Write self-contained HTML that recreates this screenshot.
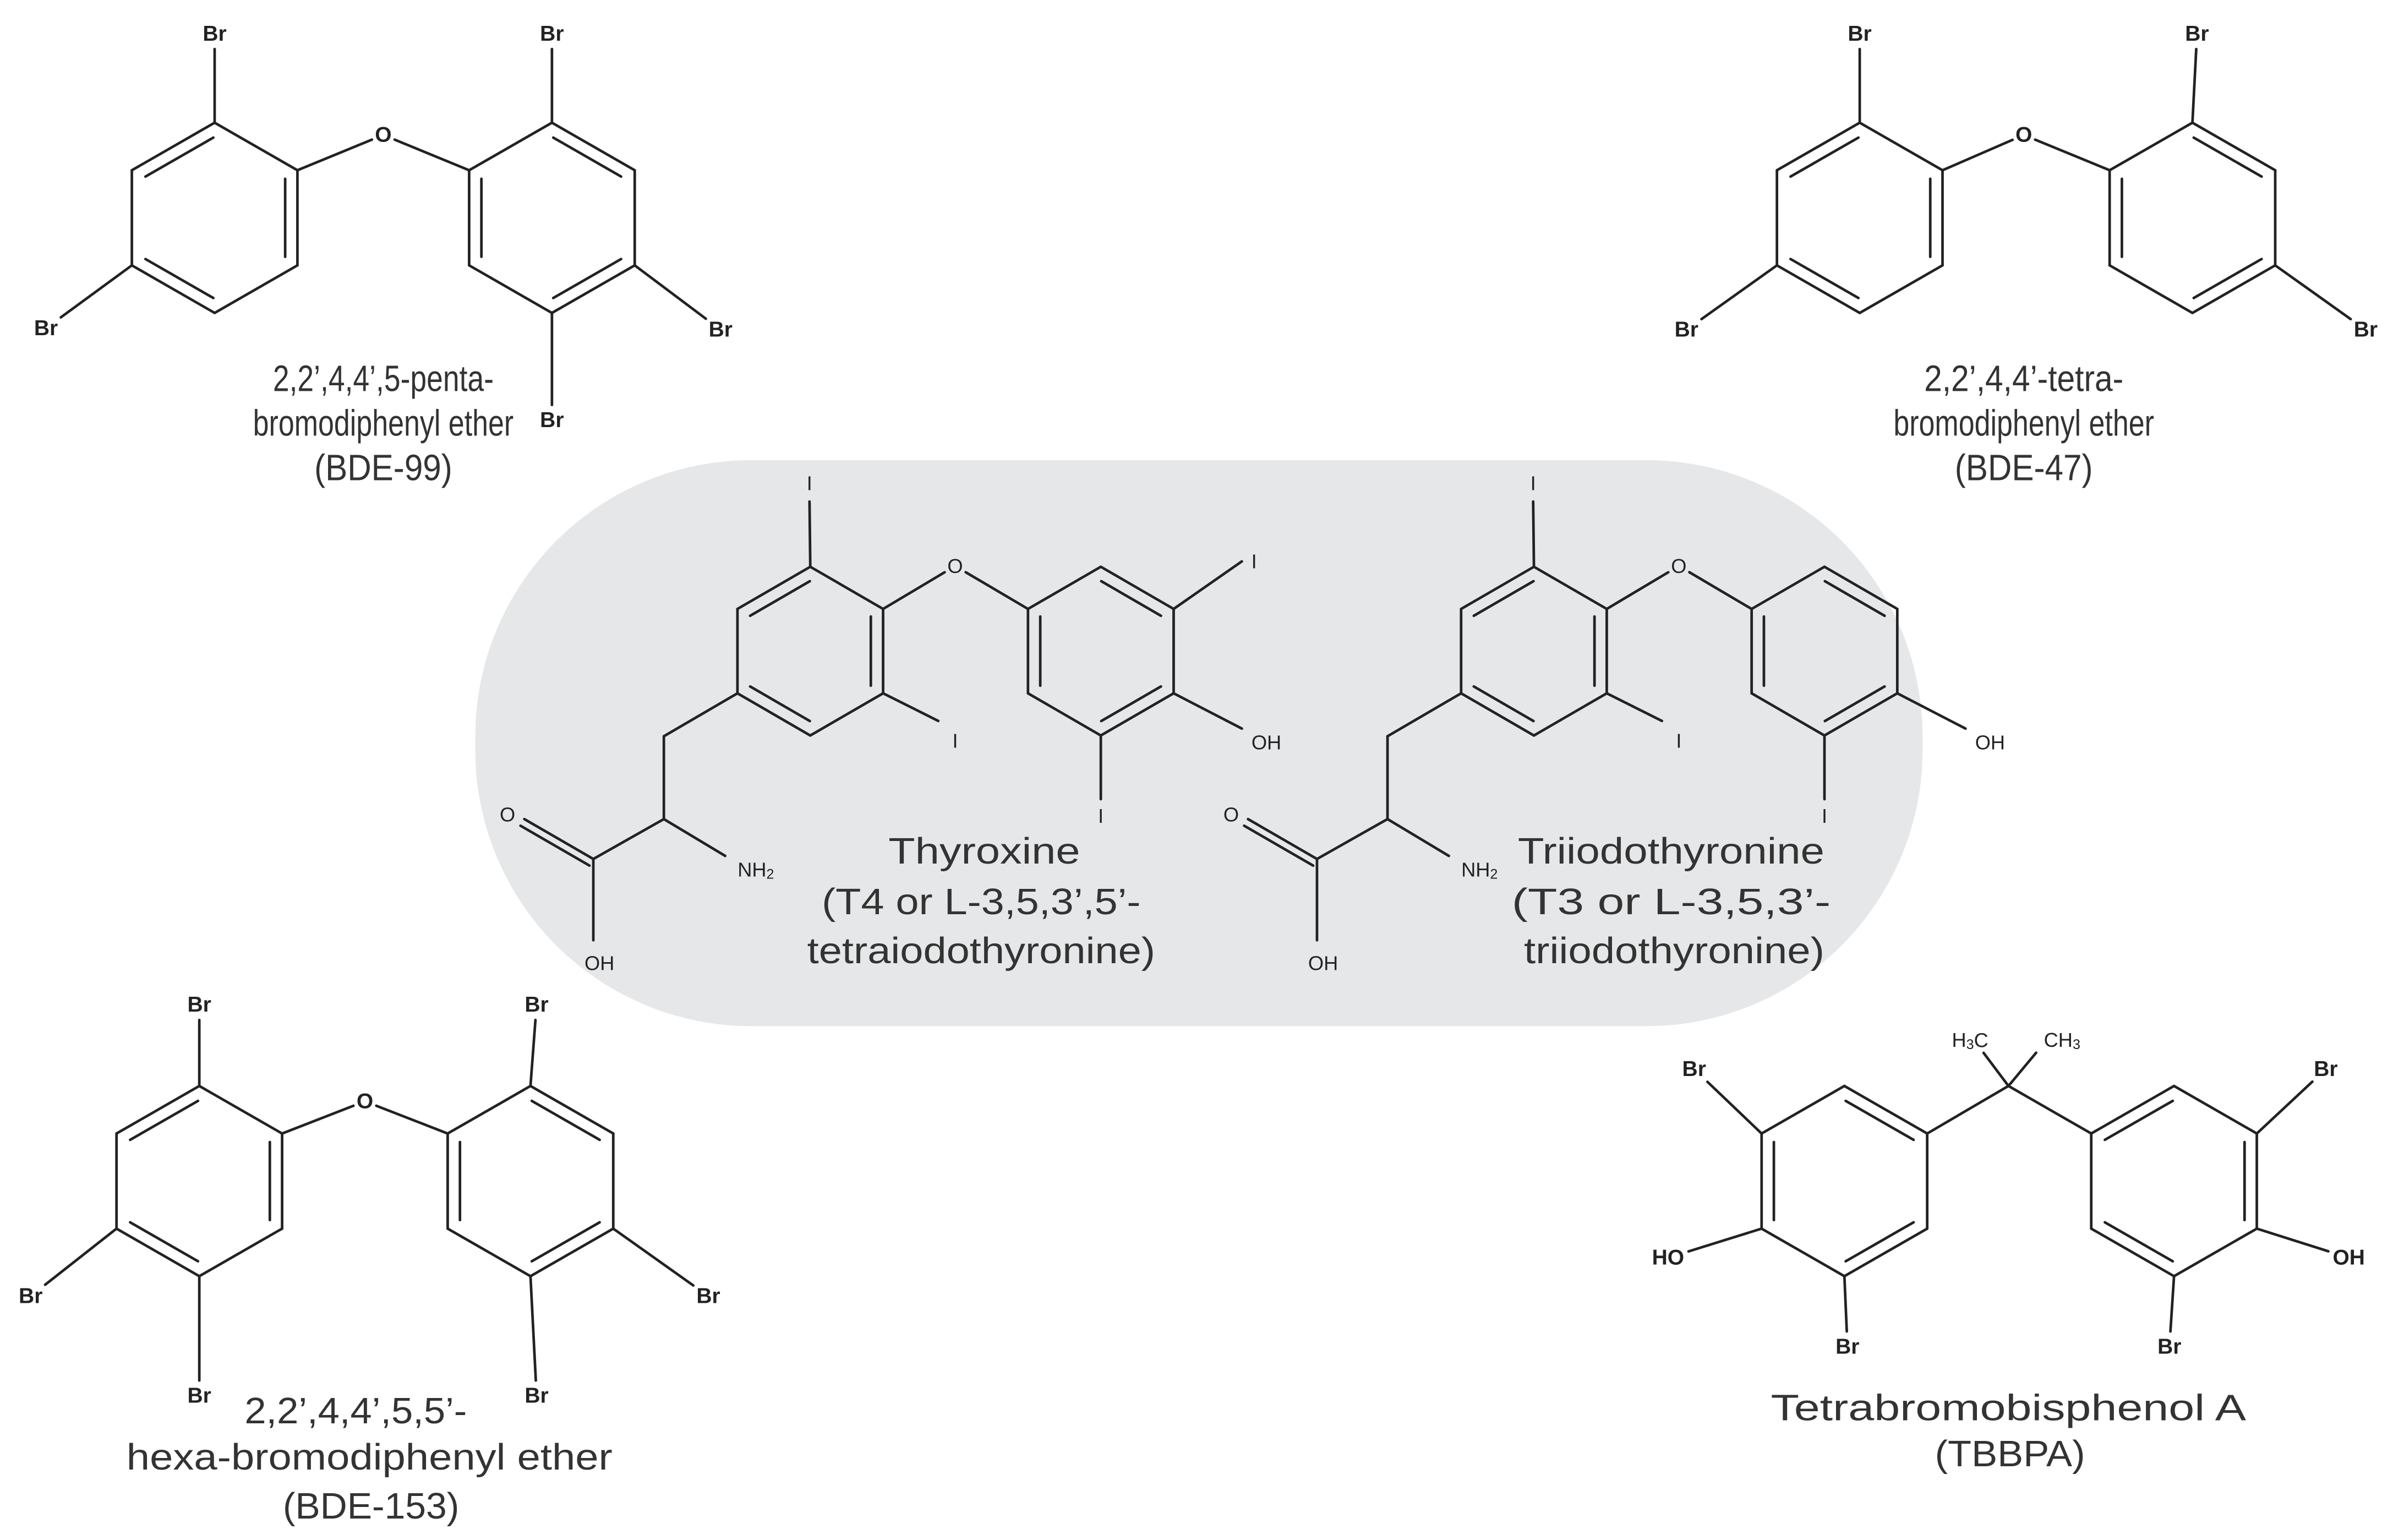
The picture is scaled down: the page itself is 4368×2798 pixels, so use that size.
<!DOCTYPE html>
<html><head><meta charset="utf-8"><style>
html,body{margin:0;padding:0;background:#fff;}
svg{display:block;}
.a{font-family:"Liberation Sans",sans-serif;font-size:14px;fill:#222;font-weight:bold;text-anchor:middle;dominant-baseline:central;}
.s{font-family:"Liberation Sans",sans-serif;font-size:13px;fill:#222;text-anchor:middle;dominant-baseline:central;}
.c{font-family:"Liberation Sans",sans-serif;font-size:24px;fill:#333;text-anchor:middle;}
</style></head><body>
<svg id="sv" width="4368" height="2798" viewBox="0 0 1568 1004" preserveAspectRatio="none" xmlns="http://www.w3.org/2000/svg">
<rect x="0" y="0" width="1568" height="1004" fill="#fff"/>
<rect x="310" y="300" width="944" height="369" rx="180" ry="180" fill="#e6e7e8"/>
<g id="bonds" stroke="#222" stroke-width="1.7" fill="none" stroke-linecap="round"></g>

<!-- BDE-99 -->
<text class="a" x="140" y="22">Br</text>
<text class="a" x="250" y="88">O</text>
<text class="a" x="360" y="22">Br</text>
<text class="a" x="30" y="214">Br</text>
<text class="a" x="470" y="215">Br</text>
<text class="a" x="360" y="274">Br</text>
<text class="c" x="250" y="255" textLength="144" lengthAdjust="spacingAndGlyphs">2,2’,4,4’,5-penta-</text>
<text class="c" x="250" y="284" textLength="170" lengthAdjust="spacingAndGlyphs">bromodiphenyl ether</text>
<text class="c" x="250" y="313" textLength="90" lengthAdjust="spacingAndGlyphs">(BDE-99)</text>

<!-- BDE-47 -->
<text class="a" x="1213" y="22">Br</text>
<text class="a" x="1320" y="88">O</text>
<text class="a" x="1433" y="22">Br</text>
<text class="a" x="1100" y="215">Br</text>
<text class="a" x="1543" y="215">Br</text>
<text class="c" x="1320" y="255" textLength="130" lengthAdjust="spacingAndGlyphs">2,2’,4,4’-tetra-</text>
<text class="c" x="1320" y="284" textLength="170" lengthAdjust="spacingAndGlyphs">bromodiphenyl ether</text>
<text class="c" x="1320" y="313" textLength="90" lengthAdjust="spacingAndGlyphs">(BDE-47)</text>

<!-- BDE-153 -->
<text class="a" x="130" y="655">Br</text>
<text class="a" x="238" y="718">O</text>
<text class="a" x="350" y="655">Br</text>
<text class="a" x="20" y="845">Br</text>
<text class="a" x="130" y="910">Br</text>
<text class="a" x="462" y="845">Br</text>
<text class="a" x="350" y="910">Br</text>
<text class="c" x="232" y="928" textLength="145" lengthAdjust="spacingAndGlyphs">2,2’,4,4’,5,5’-</text>
<text class="c" x="241" y="958" textLength="317" lengthAdjust="spacingAndGlyphs">hexa-bromodiphenyl ether</text>
<text class="c" x="242" y="990" textLength="115" lengthAdjust="spacingAndGlyphs">(BDE-153)</text>

<!-- TBBPA -->
<text class="a" x="1105" y="697">Br</text>
<text class="a" x="1088" y="820">HO</text>
<text class="a" x="1205" y="878">Br</text>
<text class="a" x="1517" y="697">Br</text>
<text class="a" x="1532" y="820">OH</text>
<text class="a" x="1415" y="878">Br</text>
<text class="s" x="1285" y="678">H<tspan font-size="9" dy="3">3</tspan><tspan dy="-3">C</tspan></text>
<text class="s" x="1345" y="678">CH<tspan font-size="9" dy="3">3</tspan></text>
<text class="c" x="1310" y="926" textLength="310" lengthAdjust="spacingAndGlyphs">Tetrabromobisphenol A</text>
<text class="c" x="1311" y="956" textLength="98" lengthAdjust="spacingAndGlyphs">(TBBPA)</text>

<!-- Thyroxine -->
<text class="s" x="528" y="315">I</text>
<text class="s" x="623" y="369">O</text>
<text class="s" x="818" y="366">I</text>
<text class="s" x="623" y="483">I</text>
<text class="s" x="826" y="484">OH</text>
<text class="s" x="718" y="532">I</text>
<text class="s" x="331" y="531">O</text>
<text class="s" x="391" y="628">OH</text>
<text class="s" x="493" y="567">NH<tspan font-size="9" dy="3">2</tspan></text>
<text class="c" x="642" y="563" textLength="125" lengthAdjust="spacingAndGlyphs">Thyroxine</text>
<text class="c" x="640" y="596" textLength="208" lengthAdjust="spacingAndGlyphs">(T4 or L-3,5,3’,5’-</text>
<text class="c" x="640" y="628" textLength="227" lengthAdjust="spacingAndGlyphs">tetraiodothyronine)</text>

<!-- T3 -->
<text class="s" x="1000" y="315">I</text>
<text class="s" x="1095" y="369">O</text>
<text class="s" x="1095" y="483">I</text>
<text class="s" x="1298" y="484">OH</text>
<text class="s" x="1190" y="532">I</text>
<text class="s" x="803" y="531">O</text>
<text class="s" x="863" y="628">OH</text>
<text class="s" x="965" y="567">NH<tspan font-size="9" dy="3">2</tspan></text>
<text class="c" x="1090" y="563" textLength="200" lengthAdjust="spacingAndGlyphs">Triiodothyronine</text>
<text class="c" x="1090" y="596" textLength="208" lengthAdjust="spacingAndGlyphs">(T3 or L-3,5,3’-</text>
<text class="c" x="1092" y="628" textLength="196" lengthAdjust="spacingAndGlyphs">triiodothyronine)</text>
</svg>
<script>
(function(){
var g=document.getElementById('bonds');var NS='http://www.w3.org/2000/svg';
function L(x1,y1,x2,y2){var l=document.createElementNS(NS,'line');l.setAttribute('x1',x1);l.setAttribute('y1',y1);l.setAttribute('x2',x2);l.setAttribute('y2',y2);g.appendChild(l);}
function B(p,q,a,b){a=a||0;b=b||0;var dx=q[0]-p[0],dy=q[1]-p[1],d=Math.sqrt(dx*dx+dy*dy);L(p[0]+dx*a/d,p[1]+dy*a/d,q[0]-dx*b/d,q[1]-dy*b/d);}
function R(cx,cy,rx,ry,dbl){var v=[[cx,cy-ry],[cx+rx,cy-ry/2],[cx+rx,cy+ry/2],[cx,cy+ry],[cx-rx,cy+ry/2],[cx-rx,cy-ry/2]];
for(var i=0;i<6;i++){var p=v[i],q=v[(i+1)%6];L(p[0],p[1],q[0],q[1]);}
dbl.forEach(function(i){var p=v[i],q=v[(i+1)%6];var mx=(p[0]+q[0])/2,my=(p[1]+q[1])/2;var k=0.82;
var ox=cx-mx,oy=cy-my,od=Math.sqrt(ox*ox+oy*oy),off=8;ox=ox/od*off;oy=oy/od*off;
var p2=[mx+(p[0]-mx)*k+ox,my+(p[1]-my)*k+oy],q2=[mx+(q[0]-mx)*k+ox,my+(q[1]-my)*k+oy];L(p2[0],p2[1],q2[0],q2[1]);});
return v;}
var A=[5,1,3],Bs=[0,2,4];
var l=R(140,142,54,62,A),r=R(360,142,54,62,Bs);
B(l[1],[250,88],0,8);B([250,88],r[5],8,0);
B(l[0],[140,22],0,10);B(l[4],[30,214],0,12);B(r[0],[360,22],0,10);B(r[2],[470,215],0,12);B(r[3],[360,274],0,10);
l=R(1213,142,54,62,A);r=R(1430,142,54,62,Bs);
B(l[1],[1320,88],0,8);B([1320,88],r[5],8,0);
B(l[0],[1213,22],0,10);B(l[4],[1100,215],0,12);B(r[0],[1433,22],0,10);B(r[2],[1543,215],0,12);
l=R(130,770,54,62,A);r=R(346,770,54,62,Bs);
B(l[1],[238,718],0,8);B([238,718],r[5],8,0);
B(l[0],[130,655],0,10);B(l[4],[20,845],0,12);B(l[3],[130,910],0,10);B(r[0],[350,655],0,10);B(r[2],[462,845],0,12);B(r[3],[350,910],0,10);
l=R(1203,770,54,62,Bs);r=R(1418,770,54,62,A);
var C=[1310,708];B(l[1],C);B(C,r[5]);B(C,[1292,684],0,3);B(C,[1330,684],0,3);
B(l[5],[1105,697],0,12);B(l[4],[1088,820],0,14);B(l[3],[1205,878],0,10);B(r[1],[1517,697],0,12);B(r[2],[1532,820],0,14);B(r[3],[1415,878],0,10);
function T(dx,four){
var a=R(528.5+dx,424.5,47.5,55,[5,1,3]),b=R(718+dx,424.5,47.5,55,[0,2,4]);
var O=[623+dx,369];B(a[1],O,0,8);B(O,b[5],8,0);
B(a[0],[528+dx,327]);B(a[2],[612+dx,470]);
if(four)B(b[1],[810+dx,366]);
B(b[2],[810+dx,475]);B(b[3],[718+dx,521]);
var ch2=[433+dx,480],al=[433+dx,534],cc=[387+dx,560];
B(a[4],ch2);B(ch2,al);B(al,[473+dx,558]);B(al,cc);
B(cc,[342+dx,534]);
var ux=cc[0]-342-dx,uy=cc[1]-534,ud=Math.sqrt(ux*ux+uy*uy);var nx=-uy/ud*5,ny=ux/ud*5;
L(cc[0]+nx,cc[1]+ny,342+dx+nx,534+ny);
B(cc,[387+dx,613]);
}
T(0,true);T(472,false);
})();
</script>
</body></html>
